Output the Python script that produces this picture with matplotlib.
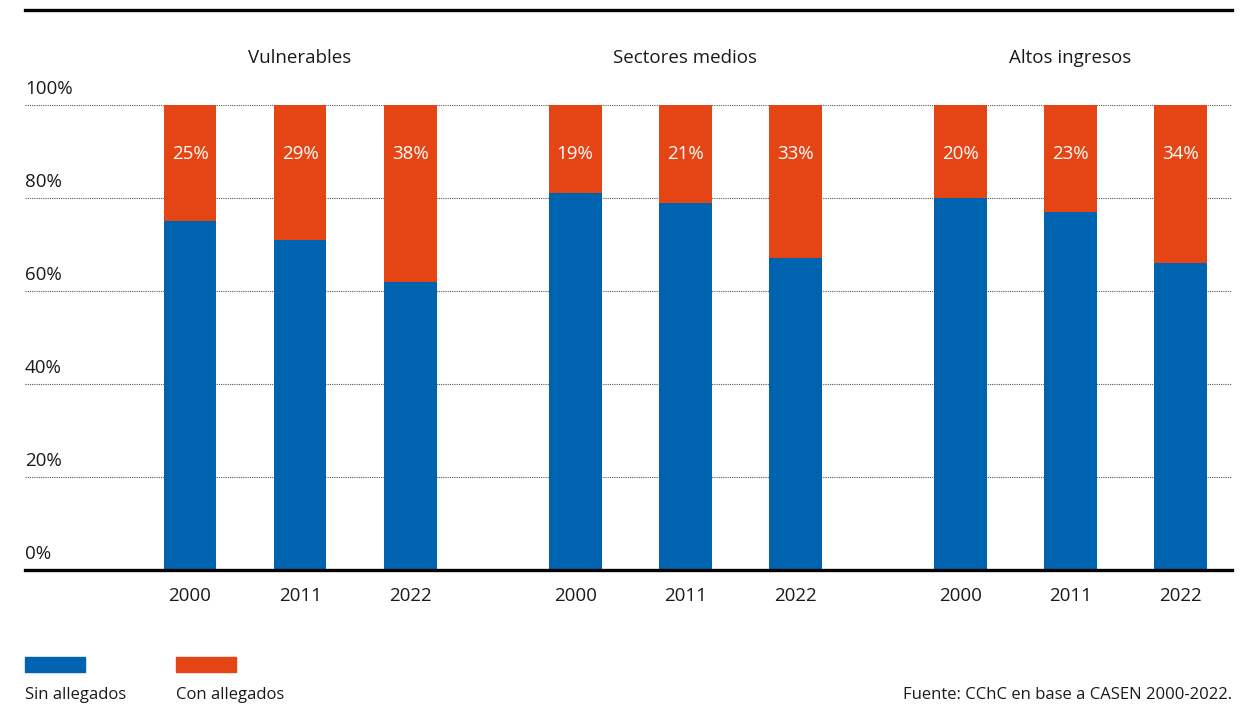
import matplotlib
matplotlib.rcParams.update({'font.family': ['Open Sans', 'DejaVu Sans'], 'font.size': 12})
from matplotlib import pyplot as plt
from matplotlib.lines import Line2D
from matplotlib.patches import Rectangle

groups = ['Vulnerables', 'Sectores medios', 'Altos ingresos']
years = ['2000', '2011', '2022']
con_allegados = [25, 29, 38, 19, 21, 33, 20, 23, 34]
sin_allegados = [100 - v for v in con_allegados]
yticks = [0, 20, 40, 60, 80, 100]

blue = '#0063af'
orange = '#e54415'
txt = '#1a1a1a'

W, H = 1252, 706
fig = plt.figure(figsize=(W/100, H/100), dpi=100)
ax = fig.add_axes([25/W, 1-570/H, (1232-25)/W, (570-105)/H])

xpos = []
for g in range(len(groups)):
    for i in range(len(years)):
        xpos.append(g*3.5 + i)

ax.bar(xpos, sin_allegados, width=0.48, color=blue, zorder=2)
ax.bar(xpos, con_allegados, width=0.48, bottom=sin_allegados, color=orange, zorder=2)
for x, v in zip(xpos, con_allegados):
    ax.text(x, 89.5, '%d%%' % v, color='white', ha='center', va='center', fontsize=13.5)
for i, x in enumerate(xpos):
    ax.text(x, -5.5, years[i % 3], ha='center', va='center', fontsize=13.5, color=txt)

ax.set_xlim(-1.5, 9.47)
ax.set_ylim(0, 100)
for y in yticks[1:]:
    ax.axhline(y, color='#555555', lw=0.8, ls=(0, (1, 1)), zorder=1)
for y in yticks:
    ax.text(-1.5, y + 1.6, '%d%%' % y, ha='left', va='bottom', fontsize=13.5, color=txt)
ax.axhline(0, color='black', lw=2.4, zorder=3, clip_on=False)
for s in ax.spines.values():
    s.set_visible(False)
ax.set_xticks([])
ax.set_yticks([])

for g, name in enumerate(groups):
    xc = 25 + (g*3.5 + 1 + 1.5)/(9.47 + 1.5)*(1232-25)
    fig.text(xc/W, 1-58/H, name, ha='center', va='center', fontsize=13.5, color=txt)

fig.add_artist(Line2D([25/W, 1232/W], [1-10/H, 1-10/H], color='black', lw=2.4))

fig.add_artist(Rectangle((25/W, 1-672/H), 60/W, 15/H, color=blue))
fig.add_artist(Rectangle((176/W, 1-672/H), 60/W, 15/H, color=orange))
fig.text(25/W, 1-695/H, 'Sin allegados', ha='left', va='center', fontsize=12, color=txt)
fig.text(176/W, 1-695/H, 'Con allegados', ha='left', va='center', fontsize=12, color=txt)
fig.text(1232/W, 1-695/H, 'Fuente: CChC en base a CASEN 2000-2022.', ha='right', va='center',
         fontsize=12, color=txt)

plt.savefig('out.png', dpi=100)
